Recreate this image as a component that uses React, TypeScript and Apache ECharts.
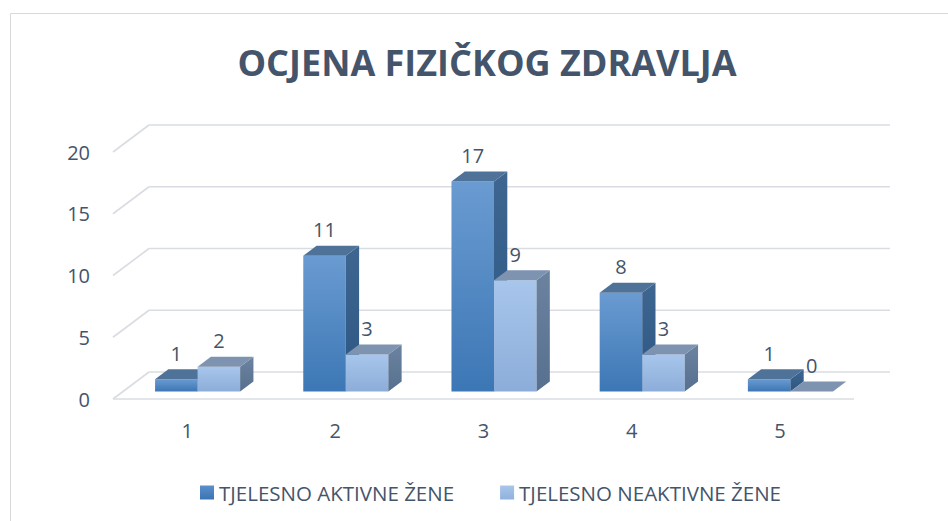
import { useEffect, useRef } from "react";
import * as echarts from "echarts";

// ---- data ----
const chartTitle = "OCJENA FIZIČKOG ZDRAVLJA";
const categories = ["1", "2", "3", "4", "5"];
const seriesNames = ["TJELESNO AKTIVNE ŽENE", "TJELESNO NEAKTIVNE ŽENE"];
const activeWomen = [1, 11, 17, 8, 1];
const inactiveWomen = [2, 3, 9, 3, 0];
const yTicks = [0, 5, 10, 15, 20];

// ---- style ----
const FONT = "'Open Sans', sans-serif";
const TEXT = "#44546a";
const GRID_COLOR = "#d9dde3";
const DEPTH_X = 36;
const DEPTH_Y = 27;
const BAR_OFF_X = 10.5;
const BAR_OFF_Y = 7.5;
const BAR_DX = 13.3;
const BAR_DY = 10;
const BAR_FRAC = 0.287;

const palettes = [
  {
    front: ["#6a9bd1", "#3c77b5"],
    side: ["#3e6691", "#2c5682"],
    top: "#4f7299",
    legend: ["#5a8fcb", "#3a74b2"],
  },
  {
    front: ["#a8c6ec", "#8cadd9"],
    side: ["#6c83a0", "#56708f"],
    top: "#7d93b0",
    legend: ["#a8c6ec", "#8fb1dc"],
  },
];

const grad = (c: string[]) =>
  new echarts.graphic.LinearGradient(0, 0, 0, 1, [
    { offset: 0, color: c[0] },
    { offset: 1, color: c[1] },
  ]);

function makeBarRender(si: number) {
  return (params: any, api: any) => {
    const idx = api.value(0);
    const v = api.value(1);
    const [cx, yv] = api.coord([idx, v]);
    const y0 = api.coord([idx, 0])[1];
    const bw = api.size([1, 0])[0];
    const w = bw * BAR_FRAC;
    const xl = cx + BAR_OFF_X - w + si * w;
    const xr = xl + w;
    const yb = y0 - BAR_OFF_Y;
    const yt = yv - BAR_OFF_Y;
    const p = palettes[si];
    const children: any[] = [];
    if (yb - yt > 0.5) {
      children.push({
        type: "polygon",
        shape: { points: [[xl, yt], [xr, yt], [xr, yb], [xl, yb]] },
        style: { fill: grad(p.front) },
      });
      children.push({
        type: "polygon",
        shape: {
          points: [
            [xr, yt],
            [xr + BAR_DX, yt - BAR_DY],
            [xr + BAR_DX, yb - BAR_DY],
            [xr, yb],
          ],
        },
        style: { fill: grad(p.side) },
      });
    }
    children.push({
      type: "polygon",
      shape: {
        points: [
          [xl, yt],
          [xr, yt],
          [xr + BAR_DX, yt - BAR_DY],
          [xl + BAR_DX, yt - BAR_DY],
        ],
      },
      style: { fill: p.top },
    });
    children.push({
      type: "text",
      x: (xl + xr) / 2,
      y: yt - BAR_DY - 16,
      style: {
        text: String(v),
        fill: TEXT,
        font: `20px ${FONT}`,
        textAlign: "center",
        textVerticalAlign: "middle",
      },
    });
    return { type: "group", children };
  };
}

function gridRender(params: any, api: any) {
  const v = api.value(1);
  const cs = params.coordSys;
  const x0 = cs.x;
  const x1 = cs.x + cs.width;
  const y = api.coord([0, v])[1];
  const st = { stroke: GRID_COLOR, lineWidth: 1.6 };
  const children: any[] = [
    { type: "line", shape: { x1: x0, y1: y, x2: x0 + DEPTH_X, y2: y - DEPTH_Y }, style: st },
    {
      type: "line",
      shape: { x1: x0 + DEPTH_X, y1: y - DEPTH_Y, x2: x1 + DEPTH_X, y2: y - DEPTH_Y },
      style: st,
    },
  ];
  if (v === 0) {
    children.push({ type: "line", shape: { x1: x0, y1: y, x2: x1, y2: y }, style: st });
  }
  return { type: "group", children };
}

export default function App() {
  const ref = useRef<HTMLDivElement>(null);
  useEffect(() => {
    document.body.style.margin = "0";
    const chart = echarts.init(ref.current!, null, { renderer: "svg" });
    chart.setOption({
      animation: false,
      backgroundColor: "#ffffff",
      textStyle: { fontFamily: FONT },
      title: {
        text: chartTitle,
        left: 482,
        top: 39,
        textAlign: "center",
        textStyle: { fontFamily: FONT, fontSize: 36, fontWeight: "bold", color: TEXT },
      },
      graphic: [
        {
          type: "rect",
          shape: { x: 10.5, y: 13.5, width: 1000, height: 600 },
          style: { fill: "none", stroke: "#d9d9d9", lineWidth: 1 },
          silent: true,
        },
      ],
      legend: {
        data: seriesNames,
        left: 195,
        top: 477,
        itemWidth: 14,
        itemHeight: 14,
        itemGap: 46,
        icon: "rect",
        textStyle: { fontFamily: FONT, fontSize: 20.5, color: TEXT },
      },
      grid: { left: 113, right: 94, top: 152, bottom: 122 },
      xAxis: {
        type: "category",
        data: categories,
        axisLine: { show: false },
        axisTick: { show: false },
        axisLabel: { fontFamily: FONT, fontSize: 20, color: TEXT, margin: 21 },
        splitLine: { show: false },
      },
      yAxis: {
        type: "value",
        min: 0,
        max: 20,
        interval: 5,
        axisLine: { show: false },
        axisTick: { show: false },
        axisLabel: { fontFamily: FONT, fontSize: 20, color: TEXT, margin: 23 },
        splitLine: { show: false },
      },
      series: [
        {
          type: "custom",
          name: "grid",
          silent: true,
          renderItem: gridRender,
          data: yTicks.map((t) => [0, t]),
          z: 1,
        },
        {
          type: "custom",
          name: seriesNames[0],
          renderItem: makeBarRender(0),
          itemStyle: { color: grad(palettes[0].legend) },
          data: activeWomen.map((v, i) => [i, v]),
          z: 2,
        },
        {
          type: "custom",
          name: seriesNames[1],
          renderItem: makeBarRender(1),
          itemStyle: { color: grad(palettes[1].legend) },
          data: inactiveWomen.map((v, i) => [i, v]),
          z: 3,
        },
      ],
    });
    return () => chart.dispose();
  }, []);
  return <div ref={ref} style={{ width: 948, height: 521 }} />;
}
